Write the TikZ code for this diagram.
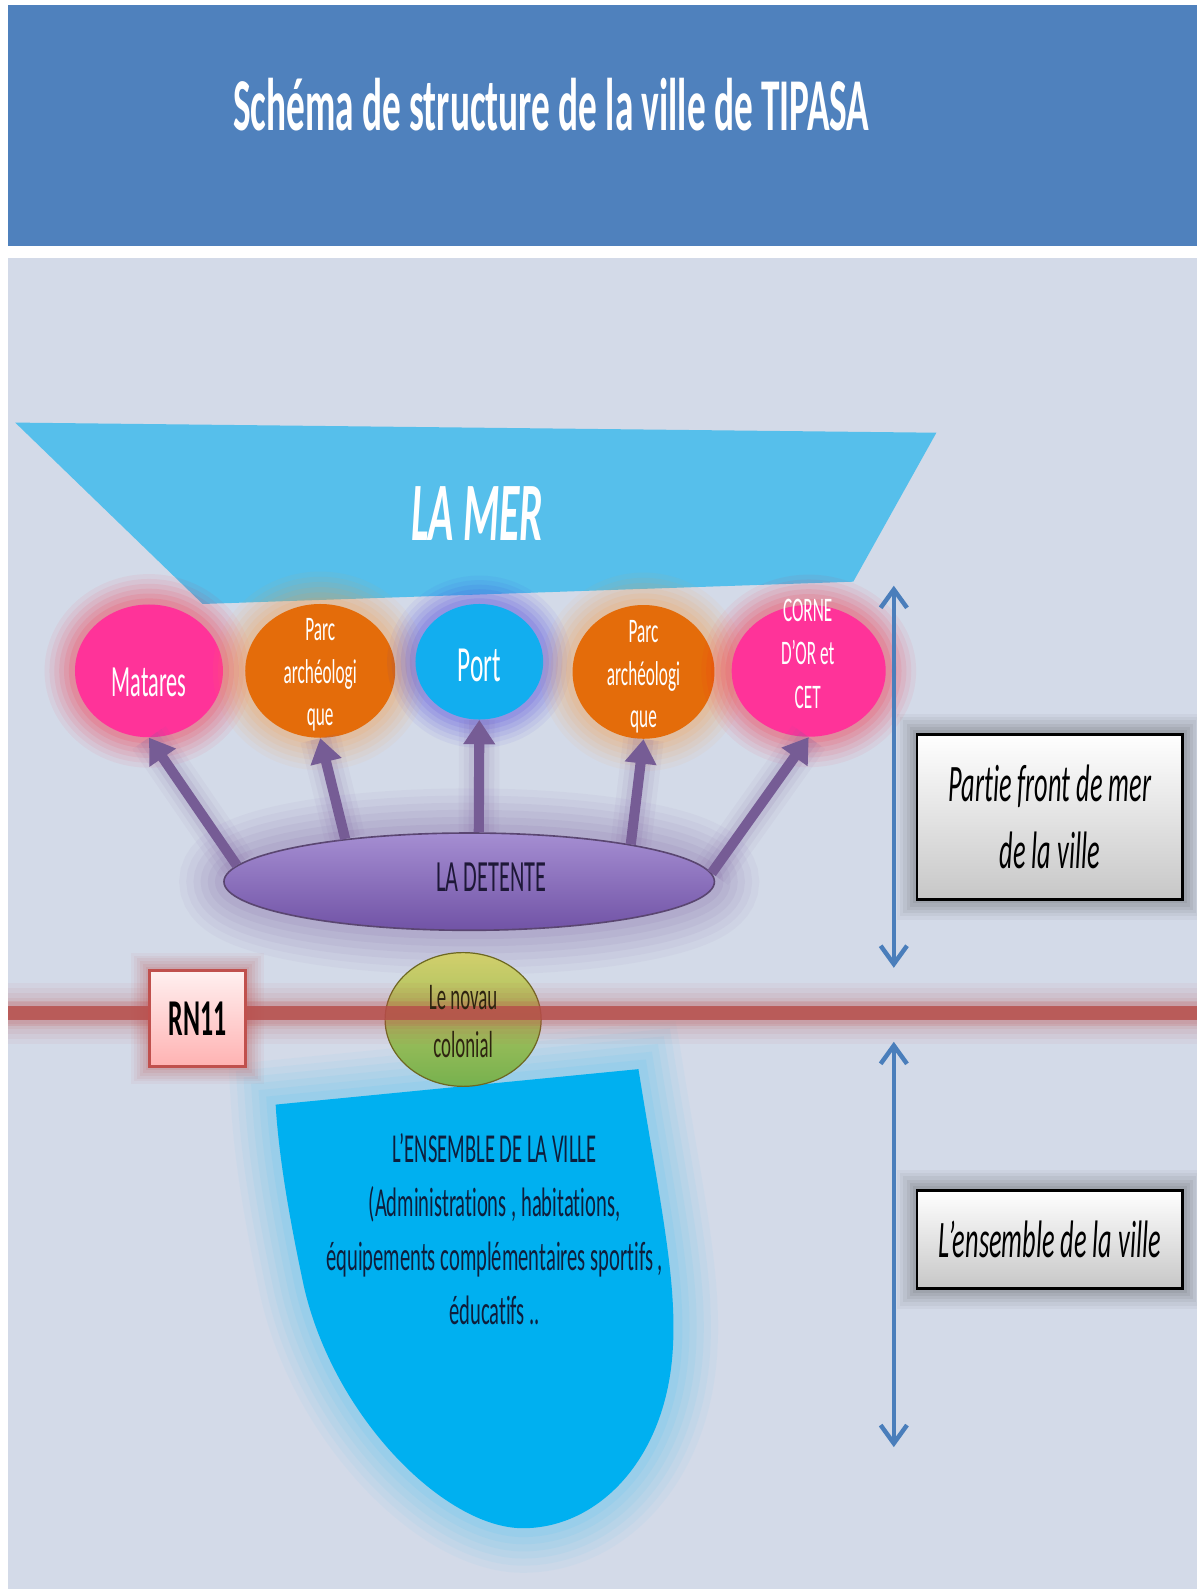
\documentclass[tikz,border=0pt]{standalone}
\usepackage{fontspec}
\setmainfont{Carlito}[FakeStretch=0.5, Ligatures=NoCommon]
\usetikzlibrary{shapes.geometric,arrows.meta,calc}
\definecolor{hdr}{HTML}{4F81BD}
\definecolor{bgc}{HTML}{D3DAE8}
\definecolor{merc}{HTML}{56BFEB}
\definecolor{pinkc}{HTML}{FF3399}
\definecolor{orgc}{HTML}{E46C0A}
\definecolor{portc}{HTML}{12AEEF}
\definecolor{purp}{HTML}{8064A2}
\definecolor{detA}{HTML}{A58ED2}
\definecolor{detB}{HTML}{7153A6}
\definecolor{ensc}{HTML}{00B0F0}
\definecolor{roadc}{HTML}{C0504D}
\definecolor{arrc}{HTML}{4A7EBB}
\definecolor{detT}{HTML}{1E1838}
\definecolor{noyT}{HTML}{2E2410}
\definecolor{ensT}{HTML}{0E1E3C}
\definecolor{noyA}{HTML}{D2CF6C}
\definecolor{noyB}{HTML}{D89A48}
\definecolor{noyC}{HTML}{76B14E}
\newcommand\setfs[2]{\fontsize{#1}{#2}\selectfont}
\begin{document}
\begin{tikzpicture}[x=0.5pt,y=-0.5pt,
  txt/.style={inner sep=0pt, align=center},
  spot/.style={ellipse, inner sep=0pt, fill=#1},
  glow/.style 2 args={
    preaction={draw=#1,line width=#2,opacity=.05},
    preaction={draw=#1,line width=0.84*#2,opacity=.06},
    preaction={draw=#1,line width=0.68*#2,opacity=.07},
    preaction={draw=#1,line width=0.52*#2,opacity=.08},
    preaction={draw=#1,line width=0.36*#2,opacity=.09},
    preaction={draw=#1,line width=0.2*#2,opacity=.10}},
  parr/.style={draw=purp!92!black, line width=5pt, -{Triangle[length=12pt,width=15pt]},
    preaction={draw=purp, line width=20pt, opacity=.06, arrows=-},
    preaction={draw=purp, line width=15pt, opacity=.08, arrows=-},
    preaction={draw=purp, line width=10pt, opacity=.12, arrows=-}},
  darr/.style={draw=arrc, line width=2.2pt,
    {Straight Barb[length=9pt,width=13pt]}-{Straight Barb[length=9pt,width=13pt]}},
  rbox/.style={draw=black, line width=1.3pt, top color=white, bottom color=black!22,
    inner sep=0pt, align=center, minimum width=131pt, glow={black!70}{20pt},
    font=\setfs{26}{33}\itshape},
  road/.style={draw=roadc!95!black, line width=7pt, glow={roadc}{30pt},
    preaction={draw=roadc, line width=12pt, opacity=.15}}
]
\useasboundingbox (0,0) rectangle (1181,1568);
\fill[white] (0,0) rectangle (1181,1568);
% header
\fill[hdr] (8,5) rectangle (1181,243);
\node[txt, text=white, font=\setfs{36.8}{44}\bfseries] (title) at (544,103)
  {Schéma de structure de la ville de TIPASA};
% background
\fill[bgc] (8,255) rectangle (1181,1568);
% la mer
\fill[merc] (15,417) -- (924,427) -- (842,574) -- (200,596) -- cycle;
\node[txt, text=white, font=\setfs{41}{48}\bfseries\itshape] (merT) at (471,507) {LA MER};
% ensemble de la ville
\fill[ensc, glow={ensc!75!white}{44pt}]
  (272,1090) -- (630,1055) .. controls (650,1180) and (668,1260) .. (664,1330)
  .. controls (658,1440) and (590,1508) .. (516,1508)
  .. controls (440,1508) and (330,1400) .. (300,1270)
  .. controls (285,1200) and (275,1140) .. (272,1090) -- cycle;
\node[txt, text=ensT, font=\setfs{20.3}{26.7}] (ensT) at (488,1213)
  {L’ENSEMBLE DE LA VILLE\\(Administrations , habitations,\\équipements complémentaires sportifs ,\\éducatifs ..};
% spots
\node[spot=pinkc, glow={red!75!pinkc}{30pt}, minimum width=73pt, minimum height=65.5pt] (mat) at (147,662) {};
\node[spot=orgc, glow={orange!80!white}{32pt}, minimum width=74pt, minimum height=66pt] (pa1) at (316,662) {};
\node[spot=portc, glow={blue!60!purp}{28pt}, minimum width=63pt, minimum height=57pt] (port) at (473,653) {};
\node[spot=orgc, glow={orange!80!white}{32pt}, minimum width=70pt, minimum height=66pt] (pa2) at (635,663) {};
\node[spot=pinkc, glow={red!75!pinkc}{30pt}, minimum width=76pt, minimum height=65pt] (corne) at (798,662) {};
\node[txt, text=white, font=\setfs{22}{26}] (matT) at (147,673) {Matares};
\node[txt, text=white, font=\setfs{17}{21}] (pa1T) at (316,666) {Parc\\archéologi\\que};
\node[txt, text=white, font=\setfs{25}{30}] (portT) at (473,657) {Port};
\node[txt, text=white, font=\setfs{17}{21}] (pa2T) at (635,668) {Parc\\archéologi\\que};
\node[txt, text=white, font=\setfs{17}{21.5}] (corT) at (797,645) {CORNE\\D’OR et\\CET};
% la detente
\node[ellipse, inner sep=0pt, minimum width=242pt, minimum height=48pt,
      top color=detA, bottom color=detB, draw=purp!70!black, line width=.8pt,
      glow={purp}{44pt}] (det) at (463,870) {};
\node[txt, text=detT, font=\setfs{22}{26}] (detT) at (485,866) {LA DETENTE};
% arrows
\draw[parr] (det.176) -- (mat.south);
\draw[parr] (det.161) -- (pa1.south);
\draw[parr] (det.79) -- (port.south);
\draw[parr] (det.13) -- (pa2.south);
\draw[parr] (det.2) -- (corne.south);
% noyau colonial
\node[ellipse, inner sep=0pt, minimum width=77pt, minimum height=66pt,
      top color=noyA, middle color=noyB, bottom color=noyC,
      draw=olive!70!black, line width=.6pt] (noy) at (457,1006) {};
% road
\coordinate (rw) at (8,1000);
\coordinate (re) at (1181,1000);
\draw[road, draw opacity=.8] (rw) -- (re);
\node[txt, text=noyT, font=\setfs{18.6}{23.5}] (noyT) at (457,1008) {Le novau\\colonial};
% RN11 box
\node[draw=roadc, line width=1.5pt, top color=red!6, bottom color=red!30, inner sep=0pt,
      minimum width=47.5pt, minimum height=47pt, glow={roadc}{18pt},
      font=\setfs{25.5}{30}\bfseries] (rn) at (195,1005) {RN11};
% vertical double arrows
\coordinate (a1t) at (882,578);
\coordinate (a1b) at (882,955);
\coordinate (a2t) at (882,1028);
\coordinate (a2b) at (882,1428);
\draw[darr] (a1t) -- (a1b);
\draw[darr] (a2t) -- (a2b);
% right boxes
\node[rbox, minimum height=81.5pt] (b1) at (1036,806) {Partie front de mer\\de la ville};
\node[rbox, minimum height=48.5pt] (b2) at (1036,1223) {L’ensemble de la ville};
\end{tikzpicture}
\end{document}
